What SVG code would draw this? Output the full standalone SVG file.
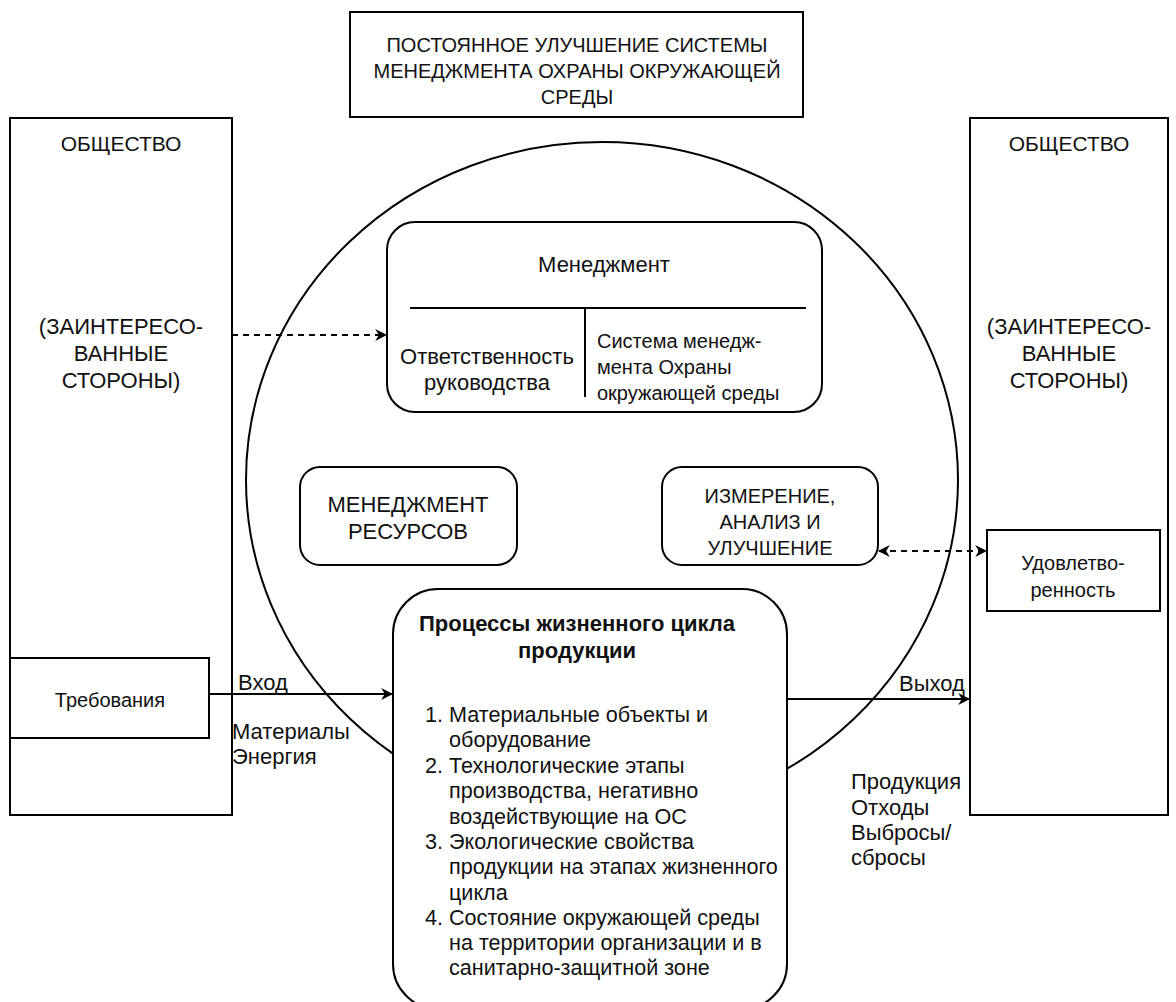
<svg xmlns="http://www.w3.org/2000/svg" width="1176" height="1002" viewBox="0 0 1176 1002">
<style>
.b{fill:#fff;stroke:#000;stroke-width:2}
.t{font-family:"Liberation Sans",Arial,sans-serif;font-size:22px;fill:#111}
.s{font-size:20px}
.m{font-size:21px}
.l{font-size:21.6px}
.c{text-anchor:middle}
.e{stroke:#000;stroke-width:2;fill:none}
.d{stroke-dasharray:6 5}
</style>
<defs>
<marker id="ah" viewBox="0 0 10 10" refX="9" refY="5" markerWidth="12" markerHeight="12" markerUnits="userSpaceOnUse" orient="auto-start-reverse">
<path d="M0,0 L10,5 L0,10 L3,5 Z" fill="#000"/>
</marker>
</defs>
<rect width="1176" height="1002" fill="#fff"/>
<g id="circle"><ellipse cx="602" cy="480" rx="356" ry="338" class="b"/></g>
<g id="title"><rect x="350" y="12" width="453" height="105" class="b"/>
<text class="t s c" x="577" y="52">ПОСТОЯННОЕ УЛУЧШЕНИЕ СИСТЕМЫ</text>
<text class="t s c" x="577" y="78">МЕНЕДЖМЕНТА ОХРАНЫ ОКРУЖАЮЩЕЙ</text>
<text class="t s c" x="577" y="104">СРЕДЫ</text></g>
<g id="society-left"><rect x="10" y="118" width="222" height="697" class="b"/>
<text class="t m c" x="121" y="151">ОБЩЕСТВО</text>
<text class="t c" x="121" y="334">(ЗАИНТЕРЕСО-</text>
<text class="t c" x="121" y="361">ВАННЫЕ</text>
<text class="t c" x="121" y="388">СТОРОНЫ)</text></g>
<g id="society-right"><rect x="970" y="118" width="198" height="697" class="b"/>
<text class="t m c" x="1069" y="151">ОБЩЕСТВО</text>
<text class="t c" x="1069" y="334">(ЗАИНТЕРЕСО-</text>
<text class="t c" x="1069" y="361">ВАННЫЕ</text>
<text class="t c" x="1069" y="388">СТОРОНЫ)</text></g>
<g id="management"><rect x="387" y="222" width="435" height="190" rx="28" class="b"/>
<text class="t c" x="604" y="272">Менеджмент</text>
<line x1="410" y1="308" x2="806" y2="308" class="e"/>
<line x1="585" y1="308" x2="585" y2="397" class="e"/>
<text class="t c" x="487" y="364">Ответственность</text>
<text class="t c" x="487" y="390">руководства</text>
<text class="t s" x="597" y="348">Система менедж-</text>
<text class="t s" x="597" y="374">мента Охраны</text>
<text class="t s" x="597" y="400">окружающей среды</text></g>
<g id="resources"><rect x="300" y="467" width="217" height="98" rx="20" class="b"/>
<text class="t c" x="408" y="512">МЕНЕДЖМЕНТ</text>
<text class="t c" x="408" y="539">РЕСУРСОВ</text></g>
<g id="measurement"><rect x="662" y="467" width="216" height="98" rx="20" class="b"/>
<text class="t s c" x="770" y="503">ИЗМЕРЕНИЕ,</text>
<text class="t s c" x="770" y="529">АНАЛИЗ И</text>
<text class="t s c" x="770" y="555">УЛУЧШЕНИЕ</text></g>
<g id="satisfaction"><rect x="987" y="530" width="173" height="81" class="b"/>
<text class="t s c" x="1073" y="570">Удовлетво-</text>
<text class="t s c" x="1073" y="597">ренность</text></g>
<g id="requirements"><rect x="10" y="658" width="199" height="80" class="b"/>
<text class="t s c" x="110" y="707">Требования</text></g>
<g id="process"><rect x="393" y="589" width="394" height="420" rx="45" class="b"/>
<text class="t c" x="577" y="631" font-weight="bold">Процессы жизненного цикла</text>
<text class="t c" x="577" y="658" font-weight="bold">продукции</text>
<text class="t l" x="425" y="722">1.</text><text class="t l" x="449" y="722">Материальные объекты и</text>
<text class="t l" x="449" y="747">оборудование</text>
<text class="t l" x="425" y="773">2.</text><text class="t l" x="449" y="773">Технологические этапы</text>
<text class="t l" x="449" y="798">производства, негативно</text>
<text class="t l" x="449" y="824">воздействующие на ОС</text>
<text class="t l" x="425" y="849">3.</text><text class="t l" x="449" y="849">Экологические свойства</text>
<text class="t l" x="449" y="874">продукции на этапах жизненного</text>
<text class="t l" x="449" y="900">цикла</text>
<text class="t l" x="425" y="925">4.</text><text class="t l" x="449" y="925">Состояние окружающей среды</text>
<text class="t l" x="449" y="950">на территории организации и в</text>
<text class="t l" x="449" y="975">санитарно-защитной зоне</text></g>
<g id="connectors">
<line x1="232" y1="335" x2="386" y2="335" class="e d" marker-end="url(#ah)"/>
<line x1="879" y1="551" x2="986" y2="551" class="e d" marker-start="url(#ah)" marker-end="url(#ah)"/>
<line x1="209" y1="694" x2="392" y2="694" class="e" marker-end="url(#ah)"/>
<line x1="787" y1="699" x2="969" y2="699" class="e" marker-end="url(#ah)"/>
<text class="t" x="238" y="690">Вход</text>
<text class="t" x="232" y="739">Материалы</text>
<text class="t" x="232" y="764">Энергия</text>
<text class="t" x="899" y="691">Выход</text>
<text class="t" x="851" y="789">Продукция</text>
<text class="t" x="851" y="815">Отходы</text>
<text class="t" x="851" y="840">Выбросы/</text>
<text class="t" x="851" y="865">сбросы</text>
</g>
</svg>
